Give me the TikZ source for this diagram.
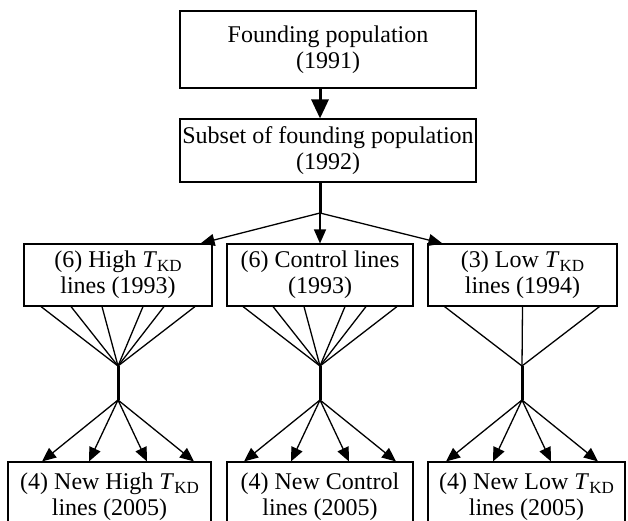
\documentclass[tikz,border=0pt]{standalone}
\usepackage{fontspec}
\setmainfont{Liberation Serif}
\usetikzlibrary{arrows.meta}
\newcommand{\tkd}{\textit{T}\raisebox{-0.35ex}{\fontsize{17}{17}\selectfont KD}}
\begin{document}
\begin{tikzpicture}[x=1pt,y=-1pt,
  box/.style={draw, line width=1.1pt, inner sep=1pt, align=center, font=\fontsize{24}{26}\selectfont},
  thinl/.style={line width=1.3pt},
  thickl/.style={line width=3pt},
  arr/.style={thinl, -{Triangle[length=14pt,width=12pt]}},
  bigarr/.style={thickl, -{Triangle[length=19pt,width=17pt]}}]
\useasboundingbox (0,0) rectangle (628,520);
\clip (0,0) rectangle (628,520);
% nodes
\node[box, minimum width=296pt, minimum height=77pt] (top) at (328,49.5) {Founding population\\(1991)};
\node[box, minimum width=296pt, minimum height=63pt] (sub) at (328,150.5) {Subset of founding population\\(1992)};
\node[box, minimum width=188pt, minimum height=62pt] (h) at (118,275) {(6) High \tkd\\lines (1993)};
\node[box, minimum width=186pt, minimum height=62pt] (c) at (320,275) {(6) Control lines\\(1993)};
\node[box, minimum width=189pt, minimum height=62pt] (l) at (522.5,275) {(3) Low \tkd\\lines (1994)};
\node[box, minimum width=203pt, minimum height=70pt] (nh) at (109.5,497) {(4) New High \tkd\\lines (2005)};
\node[box, minimum width=186pt, minimum height=70pt] (nc) at (320,497) {(4) New Control\\lines (2005)};
\node[box, minimum width=197pt, minimum height=70pt] (nl) at (526.5,497) {(4) New Low \tkd\\lines (2005)};
% axis and junctions
\coordinate (ax) at (320,0);
\coordinate (b) at (320,213);
\coordinate (hj) at (118,366); \coordinate (hk) at (118,400);
\coordinate (cj) at (320,366); \coordinate (ck) at (320,400);
\coordinate (lj) at (522,366); \coordinate (lk) at (522,400);
\coordinate (ht) at (nh.north -| hk);
\coordinate (ct) at (nc.north -| ck);
\coordinate (lt) at (nl.north -| lk);
% top arrow
\draw[bigarr] (top.south -| ax) -- (sub.north -| ax);
% subset to row 2
\draw[thickl] (sub.south -| ax) -- (b);
\draw[arr] (b) -- ([xshift=-12pt]h.north east);
\draw[arr] (b) -- (c.north);
\draw[arr] (b) -- ([xshift=15pt]l.north west);
% row 2 converging lines
\foreach \d in {-77,-47,-16,25,46,77} {
  \draw[thinl] ([xshift=\d pt]h.south) -- (hj);
  \draw[thinl] ([xshift=\d pt]c.south) -- (cj);
}
\foreach \d in {-78,0,77} \draw[thinl] ([xshift=\d pt]l.south) -- (lj);
\draw[thickl] (hj) -- (hk);
\draw[thickl] (cj) -- (ck);
\draw[thickl] (lj) -- (lk);
% arrows to row 3
\foreach \d in {-76,-29,29,76} {
  \draw[arr] (hk) -- ([xshift=\d pt]ht);
  \draw[arr] (ck) -- ([xshift=\d pt]ct);
  \draw[arr] (lk) -- ([xshift=\d pt]lt);
}
\end{tikzpicture}
\end{document}
